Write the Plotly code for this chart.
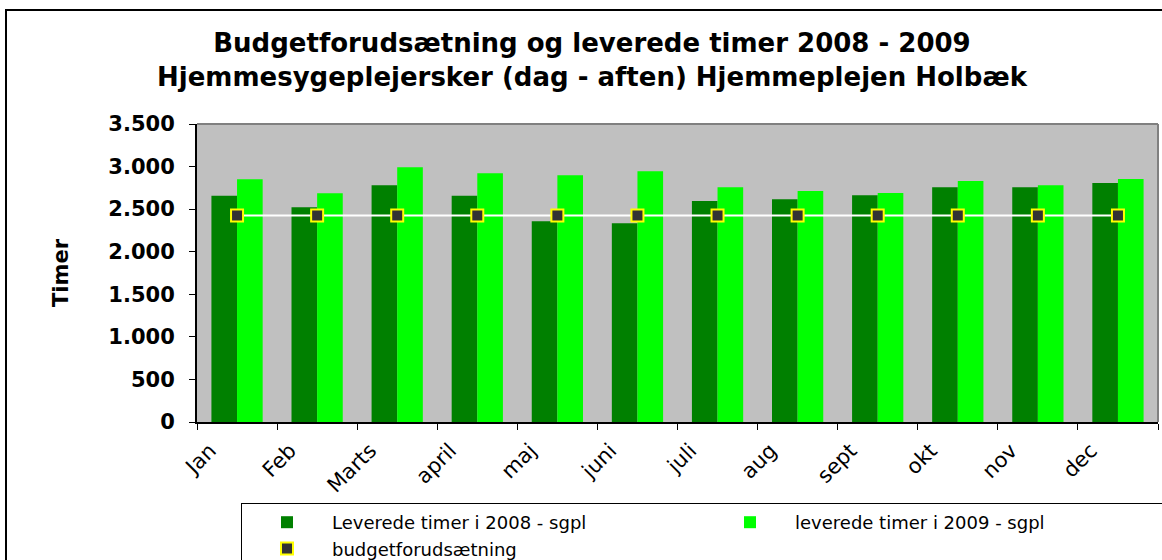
import plotly.graph_objects as go

months = ["Jan", "Feb", "Marts", "april", "maj", "juni", "juli", "aug", "sept", "okt", "nov", "dec"]
timer_2008 = [2658, 2521, 2780, 2658, 2357, 2333, 2596, 2615, 2662, 2756, 2756, 2807]
timer_2009 = [2850, 2686, 2991, 2921, 2897, 2944, 2756, 2713, 2690, 2831, 2780, 2854]
budget = [2425] * 12

name_2008 = "Leverede timer i 2008 - sgpl"
name_2009 = "leverede timer i 2009 - sgpl"
name_budget = "budgetforudsætning"

W, H = 1162, 560
L, R, T, B = 197, 4, 124, 138
pw, ph = W - L - R, H - T - B


def px(x):
    return (x - L) / pw


def py(y):
    return (H - B - y) / ph


fig = go.Figure()
fig.add_trace(go.Bar(x=months, y=timer_2008, name=name_2008,
                     marker=dict(color="#008000", line=dict(width=0))))
fig.add_trace(go.Bar(x=months, y=timer_2009, name=name_2009,
                     marker=dict(color="#00FF00", line=dict(width=0))))
fig.add_trace(go.Scatter(x=months, y=budget, name=name_budget, mode="lines+markers",
                         line=dict(color="white", width=2),
                         marker=dict(symbol="square", size=12, color="#333333",
                                     line=dict(color="#FFFF00", width=2))))

fig.update_layout(
    width=W, height=H,
    margin=dict(l=L, r=R, t=T, b=B, pad=0, autoexpand=False),
    paper_bgcolor="white",
    plot_bgcolor="#C0C0C0",
    separators=",.",
    barmode="group",
    bargap=0.36,
    bargroupgap=0,
    font=dict(family="DejaVu Sans", color="black"),
    title=dict(
        text="Budgetforudsætning og leverede timer 2008 - 2009<br>Hjemmesygeplejersker (dag - aften) Hjemmeplejen Holbæk",
        font=dict(family="DejaVu Sans", size=26, color="black", weight="bold"),
        x=592 / W, xanchor="center", xref="container",
        y=1 - 52 / H, yanchor="top", yref="container",
    ),
    xaxis=dict(
        automargin=False,
        range=[-0.5, len(months) - 0.5], autorange=False,
        showgrid=False, showline=True, linecolor="black", linewidth=2,
        ticks="outside", ticklen=6, tickcolor="black", tickwidth=1,
        tickson="boundaries", tickangle=-45,
        tickfont=dict(family="DejaVu Sans", size=21, color="black"),
        ticklabelshift=-27, ticklabelstandoff=6,
    ),
    yaxis=dict(
        automargin=False,
        range=[0, 3500], dtick=500, tickformat=",d",
        showgrid=False, zeroline=False, showline=True, linecolor="black", linewidth=2,
        ticks="outside", ticklen=6, tickcolor="black", tickwidth=1,
        tickfont=dict(family="DejaVu Sans", size=21, color="black", weight="bold"),
        ticklabelstandoff=10,
        title=dict(text="Timer", standoff=34,
                   font=dict(family="DejaVu Sans", size=21, color="black", weight="bold")),
    ),
    legend=dict(
        orientation="h",
        xref="container", yref="container",
        x=241 / W, xanchor="left",
        y=1 - 503 / H, yanchor="top",
        bordercolor="black", borderwidth=1, bgcolor="white",
        font=dict(family="DejaVu Sans", size=18, color="black"),
        entrywidth=368, entrywidthmode="pixels",
        itemwidth=80,
        traceorder="normal",
    ),
    showlegend=True,
)

# outer chart border
fig.add_shape(type="rect", xref="paper", yref="paper",
              x0=px(6), x1=px(1175), y0=py(580), y1=py(10),
              line=dict(color="black", width=2), fillcolor="rgba(0,0,0,0)", layer="below")
# gray plot-area border (top and right)
fig.add_shape(type="line", xref="paper", yref="paper", x0=0, x1=1, y0=1, y1=1,
              line=dict(color="#808080", width=2))
fig.add_shape(type="line", xref="paper", yref="paper", x0=1, x1=1, y0=0, y1=1,
              line=dict(color="#808080", width=2))

fig.write_html("out.html", config={"displayModeBar": False},
               post_script="document.body.style.margin='0';")
